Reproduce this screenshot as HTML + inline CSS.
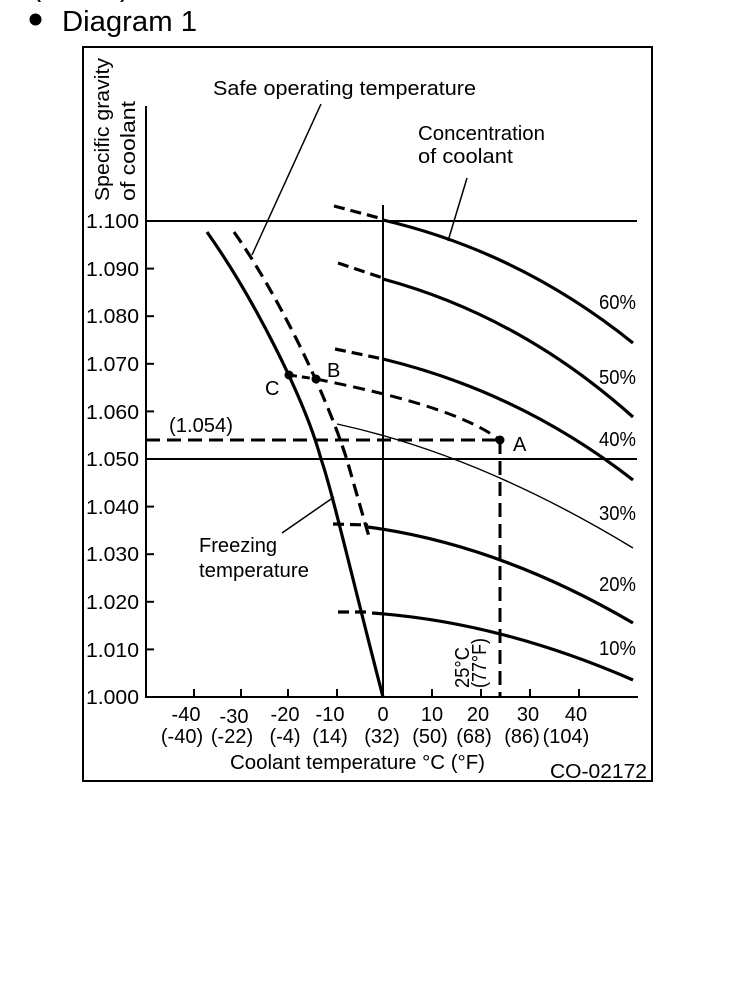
<!DOCTYPE html>
<html>
<head>
<meta charset="utf-8">
<style>
  html, body { margin: 0; padding: 0; background: #ffffff; }
  svg { display: block; }
  text { font-family: "Liberation Sans", "DejaVu Sans", sans-serif; fill: #000; }
</style>
</head>
<body>
<svg width="736" height="994" viewBox="0 0 736 994" xmlns="http://www.w3.org/2000/svg">
  <rect x="0" y="0" width="736" height="994" fill="#ffffff"/>

  <!-- partial text at top edge -->
  <text x="32" y="-4" font-size="28">(</text>
  <text x="120" y="-4" font-size="28">)</text>

  <!-- title -->
  <circle cx="35.5" cy="19.5" r="6" fill="#000"/>
  <text x="62" y="31" font-size="29" textLength="135" lengthAdjust="spacingAndGlyphs">Diagram 1</text>

  <!-- frame -->
  <rect x="83" y="47" width="569" height="734" fill="none" stroke="#000" stroke-width="2"/>

  <!-- axes -->
  <line x1="146" y1="106" x2="146" y2="698" stroke="#000" stroke-width="2"/>
  <line x1="145" y1="697" x2="638" y2="697" stroke="#000" stroke-width="2"/>

  <!-- y ticks -->
  <g stroke="#000" stroke-width="2">
    <line x1="146" y1="268.6" x2="154" y2="268.6"/>
    <line x1="146" y1="316.2" x2="154" y2="316.2"/>
    <line x1="146" y1="363.8" x2="154" y2="363.8"/>
    <line x1="146" y1="411.4" x2="154" y2="411.4"/>
    <line x1="146" y1="506.6" x2="154" y2="506.6"/>
    <line x1="146" y1="554.2" x2="154" y2="554.2"/>
    <line x1="146" y1="601.8" x2="154" y2="601.8"/>
    <line x1="146" y1="649.4" x2="154" y2="649.4"/>
  </g>

  <!-- x ticks -->
  <g stroke="#000" stroke-width="2">
    <line x1="194" y1="697" x2="194" y2="689"/>
    <line x1="241" y1="697" x2="241" y2="689"/>
    <line x1="288" y1="697" x2="288" y2="689"/>
    <line x1="337" y1="697" x2="337" y2="689"/>
    <line x1="432" y1="697" x2="432" y2="689"/>
    <line x1="481" y1="697" x2="481" y2="689"/>
    <line x1="530" y1="697" x2="530" y2="689"/>
    <line x1="579" y1="697" x2="579" y2="689"/>
  </g>

  <!-- grid lines -->
  <line x1="146" y1="221" x2="637" y2="221" stroke="#000" stroke-width="2"/>
  <line x1="146" y1="459" x2="637" y2="459" stroke="#000" stroke-width="2"/>
  <line x1="383" y1="205" x2="383" y2="697" stroke="#000" stroke-width="2"/>

  <!-- y tick labels -->
  <g font-size="20" text-anchor="end">
    <text x="139" y="228" textLength="53" lengthAdjust="spacingAndGlyphs">1.100</text>
    <text x="139" y="276" textLength="53" lengthAdjust="spacingAndGlyphs">1.090</text>
    <text x="139" y="323" textLength="53" lengthAdjust="spacingAndGlyphs">1.080</text>
    <text x="139" y="371" textLength="53" lengthAdjust="spacingAndGlyphs">1.070</text>
    <text x="139" y="419" textLength="53" lengthAdjust="spacingAndGlyphs">1.060</text>
    <text x="139" y="466" textLength="53" lengthAdjust="spacingAndGlyphs">1.050</text>
    <text x="139" y="514" textLength="53" lengthAdjust="spacingAndGlyphs">1.040</text>
    <text x="139" y="561" textLength="53" lengthAdjust="spacingAndGlyphs">1.030</text>
    <text x="139" y="609" textLength="53" lengthAdjust="spacingAndGlyphs">1.020</text>
    <text x="139" y="657" textLength="53" lengthAdjust="spacingAndGlyphs">1.010</text>
    <text x="139" y="704" textLength="53" lengthAdjust="spacingAndGlyphs">1.000</text>
  </g>

  <!-- x tick labels -->
  <g font-size="20" text-anchor="middle">
    <text x="186" y="721">-40</text>
    <text x="234" y="723">-30</text>
    <text x="285" y="721">-20</text>
    <text x="330" y="721">-10</text>
    <text x="383" y="721">0</text>
    <text x="432" y="721">10</text>
    <text x="478" y="721">20</text>
    <text x="528" y="721">30</text>
    <text x="576" y="721">40</text>

    <text x="182" y="743">(-40)</text>
    <text x="232" y="743">(-22)</text>
    <text x="285" y="743">(-4)</text>
    <text x="330" y="743">(14)</text>
    <text x="382" y="743">(32)</text>
    <text x="430" y="743">(50)</text>
    <text x="474" y="743">(68)</text>
    <text x="522" y="743">(86)</text>
    <text x="566" y="743">(104)</text>
  </g>

  <text x="230" y="769" font-size="20" textLength="255" lengthAdjust="spacingAndGlyphs">Coolant  temperature °C (°F)</text>
  <text x="550" y="778" font-size="20" textLength="97" lengthAdjust="spacingAndGlyphs">CO-02172</text>

  <!-- y axis label -->
  <text transform="translate(109,201) rotate(-90)" font-size="20" textLength="143" lengthAdjust="spacingAndGlyphs">Specific  gravity</text>
  <text transform="translate(135,201) rotate(-90)" font-size="20" textLength="100" lengthAdjust="spacingAndGlyphs">of  coolant</text>

  <!-- annotation labels -->
  <text x="213" y="95" font-size="20" textLength="263" lengthAdjust="spacingAndGlyphs">Safe  operating  temperature</text>
  <text x="418" y="140" font-size="20" textLength="127" lengthAdjust="spacingAndGlyphs">Concentration</text>
  <text x="418" y="163" font-size="20" textLength="95" lengthAdjust="spacingAndGlyphs">of  coolant</text>
  <text x="199" y="552" font-size="20" textLength="78" lengthAdjust="spacingAndGlyphs">Freezing</text>
  <text x="199" y="577" font-size="20" textLength="110" lengthAdjust="spacingAndGlyphs">temperature</text>
  <text x="169" y="432" font-size="20" textLength="64" lengthAdjust="spacingAndGlyphs">(1.054)</text>

  <text x="513" y="451" font-size="20">A</text>
  <text x="327" y="377" font-size="20">B</text>
  <text x="265" y="395" font-size="20">C</text>

  <!-- percent labels -->
  <g font-size="20">
    <text x="599" y="309" textLength="37" lengthAdjust="spacingAndGlyphs">60%</text>
    <text x="599" y="384" textLength="37" lengthAdjust="spacingAndGlyphs">50%</text>
    <text x="599" y="446" textLength="37" lengthAdjust="spacingAndGlyphs">40%</text>
    <text x="599" y="520" textLength="37" lengthAdjust="spacingAndGlyphs">30%</text>
    <text x="599" y="591" textLength="37" lengthAdjust="spacingAndGlyphs">20%</text>
    <text x="599" y="655" textLength="37" lengthAdjust="spacingAndGlyphs">10%</text>
  </g>

  <!-- 25°C (77°F) rotated -->
  <text transform="translate(469,688) rotate(-90)" font-size="20" textLength="41" lengthAdjust="spacingAndGlyphs">25°C</text>
  <text transform="translate(486,688) rotate(-90)" font-size="20" textLength="50" lengthAdjust="spacingAndGlyphs">(77°F)</text>

  <!-- leader lines -->
  <g stroke="#000" stroke-width="1.5" fill="none">
    <line x1="321" y1="104" x2="252" y2="255"/>
    <line x1="467" y1="178" x2="448" y2="241"/>
    <line x1="282" y1="533" x2="334" y2="497"/>
  </g>

  <!-- concentration curves: solid parts -->
  <g stroke="#000" stroke-width="3.2" fill="none" stroke-linecap="butt">
    <path d="M383,220 Q520,252 633,343"/>
    <path d="M383,279 Q520,316 633,417"/>
    <path d="M383,359 Q520,392 633,480"/>
    <path d="M368,527 Q500,545 633,623"/>
    <path d="M372,613 Q500,622 633,680"/>
  </g>
  <!-- 30% thin -->
  <path d="M337,424 Q480,455 633,548" stroke="#000" stroke-width="1.4" fill="none"/>

  <!-- concentration curves: dashed parts -->
  <g stroke="#000" stroke-width="3.2" fill="none" stroke-dasharray="11,6">
    <line x1="334" y1="206" x2="383" y2="219"/>
    <line x1="338" y1="263" x2="383" y2="278"/>
    <line x1="335" y1="349" x2="383" y2="359"/>
    <line x1="333" y1="524" x2="368" y2="525"/>
    <line x1="338" y1="612" x2="372" y2="612"/>
  </g>

  <!-- freezing temperature curve -->
  <path d="M207,232 C255,300 305,400 321,459 C332,490 355,590 383,697"
        stroke="#000" stroke-width="3.2" fill="none"/>

  <!-- safe operating temperature dashed curve -->
  <path d="M234,232 C275,290 325,390 347,460 L365,523 L370,540"
        stroke="#000" stroke-width="3.2" fill="none" stroke-dasharray="13,7"/>

  <!-- C - B dashed -->
  <line x1="289" y1="375" x2="316" y2="379" stroke="#000" stroke-width="3" stroke-dasharray="8,5"/>
  <!-- B - A dashed curve -->
  <path d="M316,379 C380,392 460,410 500,440"
        stroke="#000" stroke-width="3" fill="none" stroke-dasharray="12,7"/>

  <!-- 1.054 horizontal dashed -->
  <line x1="146" y1="440" x2="500" y2="440" stroke="#000" stroke-width="3" stroke-dasharray="14,7"/>
  <!-- 25°C vertical dashed -->
  <line x1="500" y1="440" x2="500" y2="697" stroke="#000" stroke-width="3" stroke-dasharray="14,7"/>

  <!-- points -->
  <circle cx="500" cy="440" r="4.5" fill="#000"/>
  <circle cx="316" cy="379" r="4.5" fill="#000"/>
  <circle cx="289" cy="375" r="4.5" fill="#000"/>
</svg>
</body>
</html>
